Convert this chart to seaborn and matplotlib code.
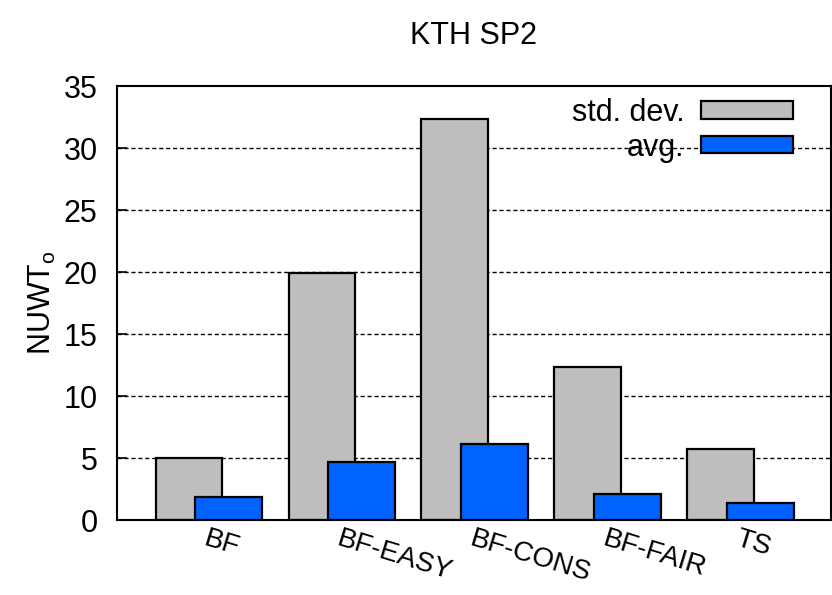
import numpy as np
import pandas as pd
import matplotlib
matplotlib.use("Agg")
import matplotlib.pyplot as plt
import seaborn as sns

categories = ["BF", "BF-EASY", "BF-CONS", "BF-FAIR", "TS"]
std_dev = [5.0, 19.9, 32.3, 12.3, 5.7]
avg = [1.85, 4.7, 6.1, 2.1, 1.4]
y_ticks = [0, 5, 10, 15, 20, 25, 30, 35]

sns.set_theme(style="white")
plt.rcParams['font.family'] = ['Liberation Sans', 'DejaVu Sans']
plt.rcParams['mathtext.fontset'] = 'custom'
plt.rcParams['mathtext.rm'] = 'Liberation Sans'
plt.rcParams['mathtext.it'] = 'Liberation Sans'
plt.rcParams['text.color'] = 'black'
plt.rcParams['axes.labelcolor'] = 'black'
plt.rcParams['xtick.color'] = 'black'
plt.rcParams['ytick.color'] = 'black'

FS = 22
fig = plt.figure(figsize=(8.32, 5.95), dpi=100)
ax = fig.add_axes([117/832, 1-520/595, 714/832, 434/595])

idx = np.arange(len(categories))
off = 0.15
df_std = pd.DataFrame({"x": idx - off, "y": std_dev})
df_avg = pd.DataFrame({"x": idx + off, "y": avg})

sns.barplot(data=df_std, x="x", y="y", native_scale=True, width=0.5,
            color="#bebebe", saturation=1, edgecolor="black", linewidth=1.6,
            label="std. dev.", ax=ax, zorder=2)
sns.barplot(data=df_avg, x="x", y="y", native_scale=True, width=0.5,
            color="#0062ff", saturation=1, edgecolor="black", linewidth=1.6,
            label="avg.", ax=ax, zorder=3)

ax.set_xlim(-0.69, 4.68)
ax.set_ylim(0, 35)
ax.set_yticks(y_ticks)
ax.set_yticklabels([str(t) for t in y_ticks], fontsize=FS)
ax.set_xticks(idx)
ax.set_xticklabels(categories, fontsize=20, rotation=-17, ha="left", va="top",
                   rotation_mode="anchor")
ax.tick_params(axis="x", length=0, pad=4)
ax.tick_params(axis="y", direction="in", length=7, width=1.2, left=True, pad=14)
ax.set_xlabel("")
ax.set_ylabel(r"NUWT$_{\mathrm{o}}$", fontsize=FS, labelpad=4)

for t in y_ticks[1:-1]:
    ax.axhline(t, color="black", lw=1.0, ls=(0, (3, 2)), zorder=1)

for s in ax.spines.values():
    s.set_visible(True)
    s.set_color("black")
    s.set_linewidth(1.5)

ax.set_title("KTH SP2", fontsize=FS, pad=30)

ax.legend(loc="upper right", bbox_to_anchor=((793-117)/714, (520-98)/434),
          frameon=False, markerfirst=False, fontsize=FS, borderpad=0,
          borderaxespad=0, handlelength=3.0, handleheight=0.5,
          handletextpad=0.55, labelspacing=0.15)

fig.savefig("out.png", dpi=100)
